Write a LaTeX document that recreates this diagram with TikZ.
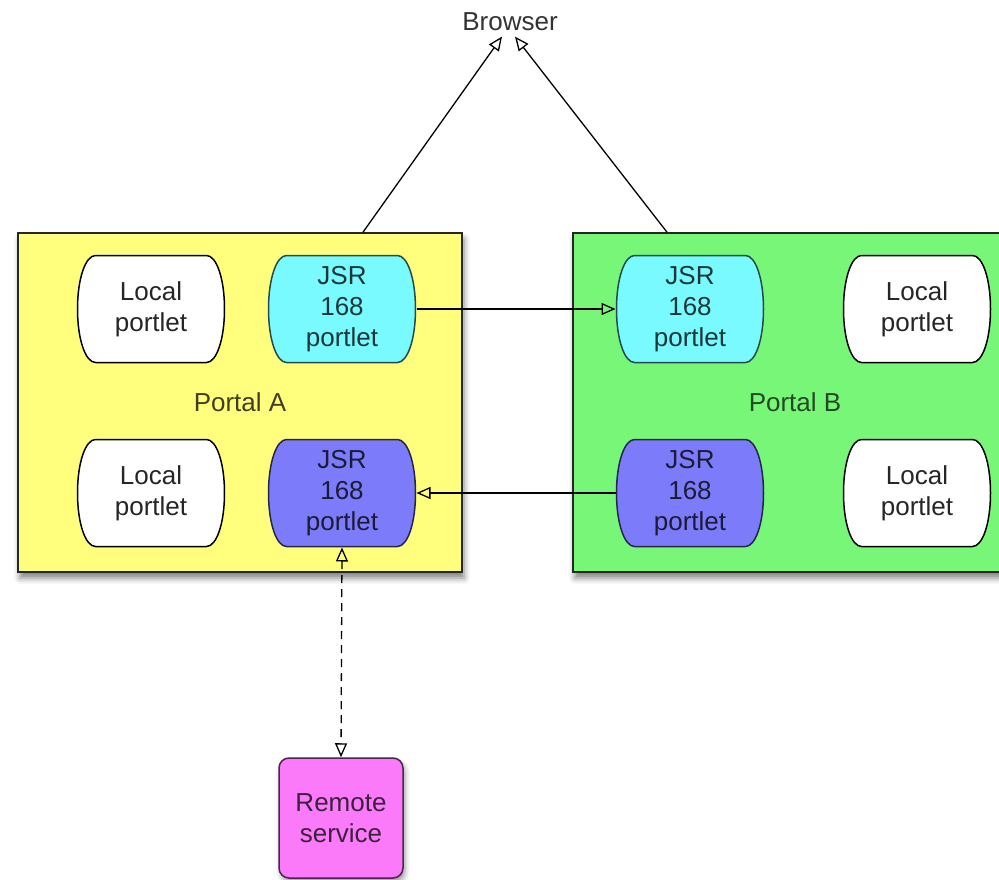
\documentclass[tikz,border=0pt]{standalone}
\usepackage{fontspec}
\setmainfont{Liberation Sans}
\usetikzlibrary{arrows.meta,shadows.blur}

\definecolor{portalyellow}{RGB}{255,255,125}
\definecolor{portalgreen}{RGB}{120,246,120}
\definecolor{jsrcyan}{RGB}{120,250,255}
\definecolor{jsrblue}{RGB}{124,124,250}
\definecolor{remotepink}{RGB}{250,122,250}

% outline of a portlet: flat top and bottom, bulging sides (1pt inside the node box)
\newcommand\portletpath[1]{([shift={(19,1)}]#1.north west) -- ([shift={(-19,1)}]#1.north east)
  .. controls ([shift={(-9,1)}]#1.north east) and ([shift={(-1,24)}]#1.north east) .. ([xshift=-1pt]#1.east)
  .. controls ([shift={(-1,-24)}]#1.south east) and ([shift={(-9,-1)}]#1.south east) .. ([shift={(-19,-1)}]#1.south east)
  -- ([shift={(19,-1)}]#1.south west)
  .. controls ([shift={(9,-1)}]#1.south west) and ([shift={(1,-24)}]#1.south west) .. ([xshift=1pt]#1.west)
  .. controls ([shift={(1,24)}]#1.north west) and ([shift={(9,1)}]#1.north west) .. cycle}

\tikzset{
  portal/.style={draw=black!85, line width=1.6pt, minimum width=444pt, minimum height=339pt,
    blur shadow={shadow xshift=2pt, shadow yshift=-6pt, shadow blur radius=6pt, shadow opacity=50}},
  portlet/.style 2 args={minimum width=149pt, minimum height=109pt, align=center, inner sep=1pt, outer sep=0pt,
    fill=white, fill opacity=0, text opacity=1,
    path picture={\draw [fill=#1, draw=#2, fill opacity=1, line width=1.5pt] \portletpath{path picture bounding box};}},
  link/.style={line width=1.3pt, -{Triangle[open,length=14pt,width=12pt]}},
}

\begin{document}
\begin{tikzpicture}[x=1pt,y=-1pt]
    \tikzstyle{every node}+=[font=\fontsize{26}{31}\selectfont]
    \clip (0,0) rectangle (999,880);
    % portals
    \node [portal, fill=portalyellow, text=portalyellow!25!black] (portalA) at (240,402.5) {Portal A};
    \node [portal, fill=portalgreen, text=portalgreen!30!black] (portalB) at (795,402.5) {Portal B};
    % portlets of portal A
    \node [portlet={white}{black}, text=black!85] (localA1) at (151,309) {Local\\portlet};
    \node [portlet={jsrcyan}{jsrcyan!30!black}, text=jsrcyan!22!black] (jsrA1) at (342,309) {JSR\\168\\portlet};
    \node [portlet={white}{black}, text=black!85] (localA2) at (151,493) {Local\\portlet};
    \node [portlet={jsrblue}{jsrblue!30!black}, text=jsrblue!22!black] (jsrA2) at (342,493) {JSR\\168\\portlet};
    % portlets of portal B
    \node [portlet={jsrcyan}{jsrcyan!30!black}, text=jsrcyan!22!black] (jsrB1) at (690,309) {JSR\\168\\portlet};
    \node [portlet={white}{black}, text=black!85] (localB1) at (917,309) {Local\\portlet};
    \node [portlet={jsrblue}{jsrblue!30!black}, text=jsrblue!22!black] (jsrB2) at (690,493) {JSR\\168\\portlet};
    \node [portlet={white}{black}, text=black!85] (localB2) at (917,493) {Local\\portlet};
    % browser and remote service
    \node [text=black!80] (browser) at (510,22) {Browser};
    \node [draw=remotepink!30!black, fill=remotepink, text=remotepink!25!black, line width=1.5pt,
      rounded corners=10pt, minimum width=124pt, minimum height=120pt, align=center,
      blur shadow={shadow xshift=2pt, shadow yshift=-4pt, shadow blur radius=5pt, shadow opacity=40}]
      (remote) at (341,818) {Remote\\service};
    % connections
    \draw [link] ([xshift=123pt]portalA.north) -- ([xshift=-8pt,yshift=-2pt]browser.south);
    \draw [link] ([xshift=-128pt]portalB.north) -- ([xshift=5pt,yshift=-2pt]browser.south);
    \draw [link] (jsrA1.east) -- (jsrB1.west);
    \draw [link] (jsrB2.west) -- (jsrA2.east);
    \draw [link, {Triangle[open,length=14pt,width=12pt]}-{Triangle[open,length=14pt,width=12pt]},
      dash pattern=on 8pt off 6pt] (jsrA2.south) -- (remote.north);
\end{tikzpicture}
\end{document}
